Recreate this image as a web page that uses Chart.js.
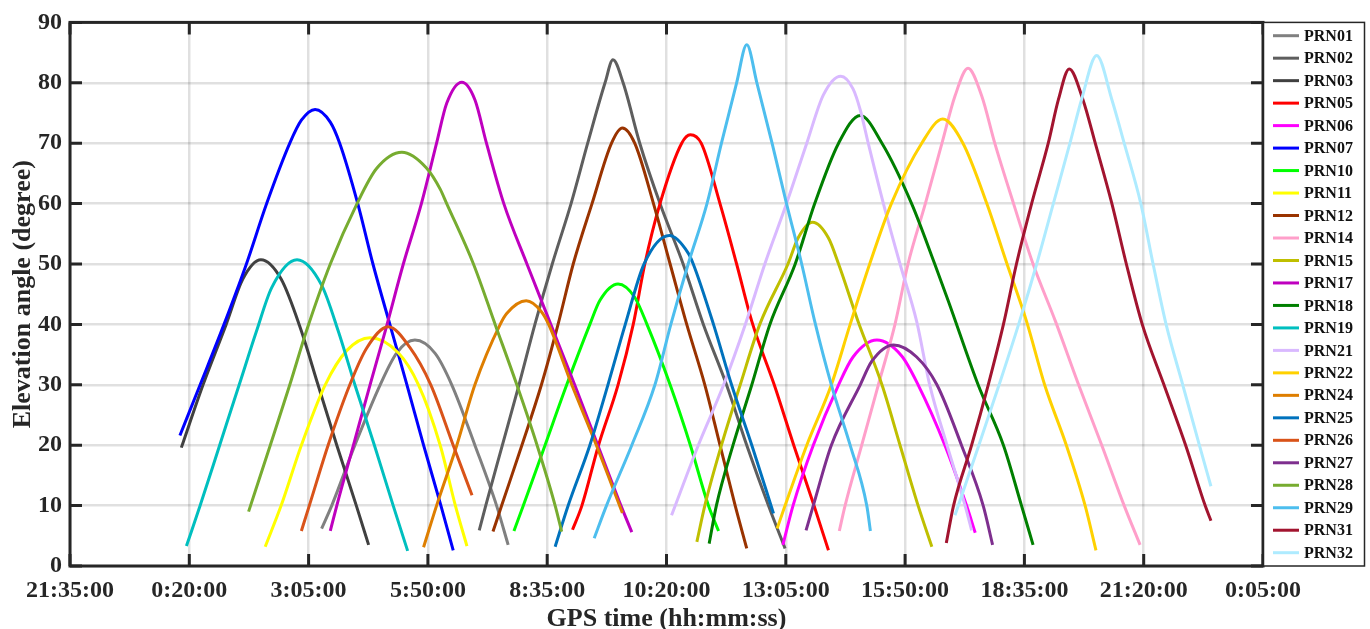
<!DOCTYPE html>
<html>
<head>
<meta charset="utf-8">
<script src="https://cdn.jsdelivr.net/npm/chart.js@4.4.1/dist/chart.umd.min.js"></script>
<style>
  html, body { margin: 0; padding: 0; background: #fff; }
  #wrap { width: 1370px; height: 629px; }
</style>
</head>
<body>
<div id="wrap"><canvas id="elevChart" width="1370" height="629"></canvas></div>
<script>
// x values are minutes after 21:35:00, y values are elevation in degrees
const timeLabels = ['21:35:00', '0:20:00', '3:05:00', '5:50:00', '8:35:00', '10:20:00',
                    '13:05:00', '15:50:00', '18:35:00', '21:20:00', '0:05:00'];
const elevTicks = [0, 10, 20, 30, 40, 50, 60, 70, 80, 90];

const prn01T = [348, 362, 394, 429, 452, 477, 505, 528, 560, 590, 606];
const prn01E = [6.2, 10, 20, 30, 35.3, 37.4, 35.2, 30, 20, 10, 3.5];
const prn02T = [566, 575, 598, 621, 643, 667, 693, 716, 740, 751, 765, 788, 816, 848, 876, 908, 936, 966, 989];
const prn02E = [5.9, 10, 20, 30, 40, 50, 60, 70, 80, 83.8, 80, 70, 60, 50, 40, 30, 20, 10, 2.9];
const prn03T = [154, 184, 216, 239, 264, 292, 320, 343, 369, 396, 413];
const prn03E = [19.6, 30, 40, 47.5, 50.7, 47.5, 38.9, 30, 20, 10, 3.5];
const prn05T = [695, 708, 731, 758, 779, 795, 816, 846, 858, 873, 899, 922, 943, 974, 1001, 1029, 1049];
const prn05E = [6, 10, 20, 30, 40, 50, 60, 70, 71.4, 70, 60, 50, 40.5, 30, 20, 10, 2.6];
const prn06T = [986, 1000, 1028, 1063, 1083, 1116, 1150, 1173, 1210, 1240, 1252];
const prn06E = [3.5, 10, 20, 30, 34.6, 37.4, 34.8, 30, 20, 10, 5.5];
const prn07T = [152, 180, 213, 244, 272, 304, 320, 339, 360, 373, 398, 419, 445, 466, 489, 513, 530];
const prn07E = [21.6, 30, 40, 50, 60, 70, 73.8, 75.6, 73.5, 70, 60, 50, 38.9, 30, 20, 10, 2.6];
const prn10T = [614, 627, 657, 687, 719, 733, 758, 781, 798, 830, 858, 883, 897];
const prn10E = [5.8, 10, 20, 30, 40, 44, 46.7, 44.5, 40, 30, 20, 10, 5.8];
const prn11T = [270, 292, 320, 353, 383, 415, 454, 482, 512, 533, 549];
const prn11E = [3.2, 10, 20, 30, 35.7, 37.8, 35.3, 30, 20, 10, 3.3];
const prn12T = [585, 597, 625, 652, 675, 696, 722, 749, 764, 781, 807, 830, 853, 878, 899, 920, 936];
const prn12E = [5.7, 10, 20, 30, 40, 50, 60, 70, 72.5, 70, 60, 50, 40, 30, 20, 10, 2.9];
const prn14T = [1064, 1072, 1095, 1118, 1141, 1159, 1183, 1206, 1224, 1242, 1261, 1279, 1305, 1332, 1363, 1395, 1427, 1458, 1480];
const prn14E = [5.8, 10, 20, 30, 40, 50, 60, 70, 77.8, 82.4, 77.8, 70, 60, 50, 40.5, 30, 20, 10, 3.5];
const prn15T = [867, 878, 901, 927, 954, 993, 1007, 1027, 1049, 1063, 1090, 1123, 1148, 1173, 1192];
const prn15E = [4, 10, 20, 30, 40, 50, 54.3, 56.9, 54.3, 50, 40.5, 30, 20, 10, 3.2];
const prn17T = [360, 369, 392, 415, 436, 461, 486, 507, 521, 542, 560, 576, 600, 632, 665, 698, 730, 762, 777];
const prn17E = [5.8, 10, 20, 30, 38.9, 50, 60, 70, 76.6, 80.1, 77.2, 70, 60, 50, 40, 30, 20, 10, 5.6];
const prn18T = [884, 894, 917, 943, 968, 1003, 1030, 1063, 1093, 1123, 1164, 1196, 1215, 1256, 1291, 1316, 1332];
const prn18E = [3.7, 10, 20, 30, 40, 50, 60, 70, 74.6, 70, 60, 50, 43.8, 30, 20, 10, 3.5];
const prn19T = [161, 180, 207, 234, 258, 279, 314, 348, 371, 394, 421, 447, 467];
const prn19E = [3.3, 10, 20, 30, 38.9, 46.1, 50.7, 46.5, 38.9, 30, 20, 10, 2.5];
const prn21T = [832, 869, 904, 934, 961, 991, 1019, 1042, 1066, 1083, 1093, 1104, 1125, 1148, 1171, 1189, 1213, 1238, 1247];
const prn21E = [8.4, 20, 30, 40, 50, 60, 70, 78, 81.1, 79, 75.5, 70, 60, 50, 40.5, 30, 20, 10, 5.9];
const prn22T = [978, 989, 1019, 1053, 1079, 1106, 1136, 1178, 1207, 1235, 1268, 1296, 1323, 1348, 1378, 1404, 1419];
const prn22E = [6.2, 10, 20, 30, 40, 50, 60, 70, 74, 70, 60, 50, 40.5, 30, 20, 10, 2.6];
const prn24T = [489, 507, 535, 560, 595, 604, 631, 652, 662, 694, 728, 764];
const prn24E = [3.1, 10, 20, 30, 40, 41.8, 43.9, 42.1, 40, 30, 20, 8.8];
const prn25T = [671, 689, 719, 744, 768, 794, 829, 855, 862, 890, 915, 943, 973];
const prn25E = [3.2, 10, 20, 30, 40, 50, 54.7, 51.8, 50, 40, 30, 20, 8.7];
const prn26T = [320, 331, 357, 387, 410, 440, 470, 499, 530, 556];
const prn26E = [5.8, 10, 20, 30, 36, 39.6, 36.2, 30, 20, 11.7];
const prn27T = [1018, 1028, 1053, 1093, 1109, 1139, 1171, 1199, 1233, 1263, 1276];
const prn27E = [5.9, 10, 20, 30, 33.9, 36.6, 34.6, 30, 20, 10, 3.5];
const prn28T = [247, 277, 304, 327, 360, 397, 424, 459, 493, 512, 521, 558, 588, 618, 646, 671, 680];
const prn28E = [9, 20, 30, 38.9, 50, 60, 65.8, 68.5, 65.9, 62.4, 60, 50, 40, 30, 20, 10, 5.7];
const prn29T = [725, 742, 777, 809, 831, 855, 881, 901, 922, 936, 950, 971, 991, 1012, 1030, 1053, 1079, 1102, 1107];
const prn29E = [4.6, 10, 20, 30, 40, 50, 60, 70, 80, 86.3, 80, 70, 60, 50, 40.5, 30, 20, 10, 5.8];
const prn31T = [1212, 1222, 1247, 1270, 1291, 1309, 1330, 1353, 1367, 1382, 1401, 1418, 1441, 1461, 1483, 1513, 1543, 1570, 1578];
const prn31E = [3.8, 10, 20, 30, 40, 50, 60, 70, 77.2, 82.3, 77.2, 70, 60, 50, 40, 30, 20, 10, 7.5];
const prn32T = [1224, 1257, 1285, 1312, 1337, 1360, 1383, 1399, 1420, 1441, 1458, 1481, 1498, 1516, 1539, 1562, 1578];
const prn32E = [8.4, 20, 30, 40, 50, 60, 70, 77.2, 84.5, 77.2, 70, 60, 50, 40, 30, 20, 13.2];

// label, times, elevations, colour
const satellites = [
    ['PRN01', prn01T, prn01E, '#808080'],
    ['PRN02', prn02T, prn02E, '#5e5e5e'],
    ['PRN03', prn03T, prn03E, '#404040'],
    ['PRN05', prn05T, prn05E, '#ff0000'],
    ['PRN06', prn06T, prn06E, '#ff00ff'],
    ['PRN07', prn07T, prn07E, '#0000ff'],
    ['PRN10', prn10T, prn10E, '#00ff00'],
    ['PRN11', prn11T, prn11E, '#ffff00'],
    ['PRN12', prn12T, prn12E, '#993300'],
    ['PRN14', prn14T, prn14E, '#ff9fca'],
    ['PRN15', prn15T, prn15E, '#bfbf00'],
    ['PRN17', prn17T, prn17E, '#bf00bf'],
    ['PRN18', prn18T, prn18E, '#007f00'],
    ['PRN19', prn19T, prn19E, '#00bfbf'],
    ['PRN21', prn21T, prn21E, '#d9b9ff'],
    ['PRN22', prn22T, prn22E, '#ffd100'],
    ['PRN24', prn24T, prn24E, '#de7e00'],
    ['PRN25', prn25T, prn25E, '#0072bd'],
    ['PRN26', prn26T, prn26E, '#d95319'],
    ['PRN27', prn27T, prn27E, '#7e2f8e'],
    ['PRN28', prn28T, prn28E, '#77ac30'],
    ['PRN29', prn29T, prn29E, '#4dbeee'],
    ['PRN31', prn31T, prn31E, '#a2142f'],
    ['PRN32', prn32T, prn32E, '#aeebff']
];

const FONT = "'Liberation Serif', 'Times New Roman', serif";
const INK = '#262626';

// frame around the plot with inward tick marks (matlab box style)
const framePlugin = {
    id: 'frame',
    afterDatasetsDraw(chart) {
        const ctx = chart.ctx, a = chart.chartArea;
        const xs = chart.scales.x, ys = chart.scales.y;
        ctx.save();
        ctx.strokeStyle = INK;
        ctx.lineWidth = 3;
        ctx.beginPath();
        xs.ticks.forEach(t => {
            const px = xs.getPixelForValue(t.value);
            ctx.moveTo(px, a.bottom); ctx.lineTo(px, a.bottom - 12);
            ctx.moveTo(px, a.top); ctx.lineTo(px, a.top + 12);
        });
        ys.ticks.forEach(t => {
            const py = ys.getPixelForValue(t.value);
            ctx.moveTo(a.left, py); ctx.lineTo(a.left + 12, py);
            ctx.moveTo(a.right, py); ctx.lineTo(a.right - 12, py);
        });
        ctx.stroke();
        ctx.strokeRect(a.left, a.top, a.right - a.left, a.bottom - a.top);
        ctx.restore();
    }
};

// boxed legend to the right of the plot
const legendPlugin = {
    id: 'boxLegend',
    afterDraw(chart) {
        const ctx = chart.ctx, a = chart.chartArea;
        const x0 = a.right, w = 101, h = a.bottom - a.top;
        ctx.save();
        ctx.fillStyle = '#fff';
        ctx.fillRect(x0, a.top, w, h);
        ctx.strokeStyle = INK;
        ctx.lineWidth = 1.5;
        ctx.strokeRect(x0 + 0.5, a.top, w, h);
        ctx.font = 'bold 16px ' + FONT;
        ctx.textBaseline = 'middle';
        const step = (h - 26.6) / (chart.data.datasets.length - 1);
        chart.data.datasets.forEach((ds, i) => {
            const y = a.top + 13.3 + i * step;
            ctx.strokeStyle = ds.borderColor;
            ctx.lineWidth = 3;
            ctx.beginPath();
            ctx.moveTo(x0 + 10, y); ctx.lineTo(x0 + 36, y);
            ctx.stroke();
            ctx.fillStyle = '#111';
            ctx.fillText(ds.label, x0 + 41, y + 1);
        });
        ctx.restore();
    }
};

const datasets = satellites.map((s, i) => ({
    label: s[0],
    data: s[1].map((t, k) => ({ x: t, y: s[2][k] })),
    borderColor: s[3],
    backgroundColor: s[3],
    borderWidth: 3,
    pointRadius: 0,
    fill: false,
    cubicInterpolationMode: 'monotone',
    order: -i
}));

new Chart(document.getElementById('elevChart').getContext('2d'), {
    type: 'line',
    data: { datasets: datasets },
    options: {
        responsive: false,
        animation: false,
        layout: { padding: { left: 0, top: 20, right: 107, bottom: 0 } },
        plugins: {
            legend: { display: false },
            tooltip: { enabled: false }
        },
        scales: {
            x: {
                type: 'linear',
                min: 0,
                max: 1650,
                afterBuildTicks: (scale) => {
                    scale.ticks = timeLabels.map((l, i) => ({ value: i * 165 }));
                },
                afterFit: (scale) => { scale.height = 63; },
                grid: { color: 'rgba(0,0,0,0.12)', lineWidth: 2.5, drawTicks: false },
                border: { display: false },
                ticks: {
                    autoSkip: false,
                    maxRotation: 0,
                    padding: 10,
                    color: INK,
                    font: { family: FONT, size: 24, weight: 'bold' },
                    callback: (v) => timeLabels[Math.round(v / 165)]
                },
                title: {
                    display: true,
                    text: 'GPS time (hh:mm:ss)',
                    color: INK,
                    padding: { top: 0, bottom: -6 },
                    font: { family: FONT, size: 26, weight: 'bold' }
                }
            },
            y: {
                min: 0,
                max: 90,
                afterBuildTicks: (scale) => {
                    scale.ticks = elevTicks.map(v => ({ value: v }));
                },
                afterFit: (scale) => { scale.width = 70; },
                grid: { color: 'rgba(0,0,0,0.12)', lineWidth: 2.5, drawTicks: false },
                border: { display: false },
                ticks: {
                    padding: 8,
                    color: INK,
                    font: { family: FONT, size: 24, weight: 'bold' }
                },
                title: {
                    display: true,
                    text: 'Elevation angle (degree)',
                    color: INK,
                    padding: { top: 8, bottom: 0 },
                    font: { family: FONT, size: 26, weight: 'bold' }
                }
            }
        }
    },
    plugins: [framePlugin, legendPlugin]
});
</script>
</body>
</html>
